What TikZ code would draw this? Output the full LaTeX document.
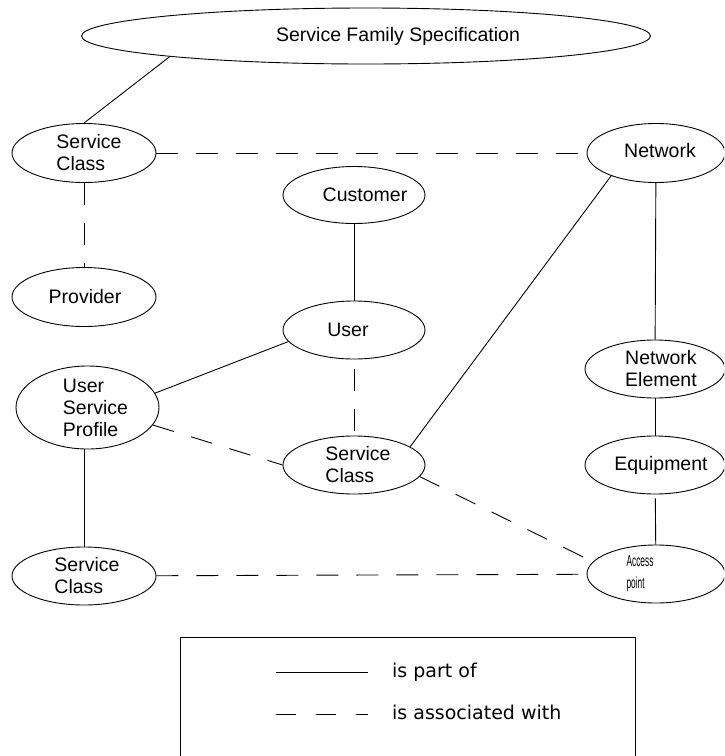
\documentclass[tikz,border=0pt]{standalone}
\usepackage{fontspec}
\usepackage{graphicx}
\setmainfont{Liberation Sans}
\newfontfamily\keyfont{DejaVu Sans}
\usetikzlibrary{shapes.geometric}

\newcommand{\narrowtext}[1]{\scalebox{0.52}[1]{#1}}

\tikzset{
  oval/.style 2 args={draw, ellipse, inner sep=0pt, line width=0.9pt,
    minimum width=#1, minimum height=#2},
  lbl/.style={font=\fontsize{19.5}{22}\selectfont, align=left, inner sep=0pt},
  smalllbl/.style={font=\fontsize{16}{22}\selectfont, align=left, inner sep=0pt},
  partof/.style={line width=0.9pt},
  assoc/.style={line width=0.9pt, dash pattern=on 22pt off 18pt},
  keytext/.style={font=\keyfont\fontsize{19}{22}\selectfont, inner sep=0pt},
}

\begin{document}
\begin{tikzpicture}[x=1pt, y=-1pt]
  \useasboundingbox (0,0) rectangle (724,756);
  \clip (0,0) rectangle (724,756);

  % entities
  \node[oval={569pt}{56pt}, label={[lbl, xshift=32pt]center:Service Family Specification}] (sfs) at (366,36) {};
  \node[oval={144pt}{59pt}, label={[lbl, xshift=5pt]center:{Service\\Class}}] (sc1) at (84,153) {};
  \node[oval={138pt}{59pt}, label={[lbl, xshift=4pt, yshift=2pt]center:Network}] (net) at (656,153) {};
  \node[oval={142pt}{57pt}, label={[lbl, xshift=11pt]center:Customer}] (cust) at (354,195) {};
  \node[oval={144pt}{59pt}, label={[lbl, xshift=1pt]center:Provider}] (prov) at (84,297) {};
  \node[oval={142pt}{58pt}, label={[lbl, xshift=-6pt]center:User}] (user) at (354,330) {};
  \node[oval={143pt}{83pt}, label={[lbl, xshift=8pt]center:{User\\Service\\Profile}}] (usp) at (87.5,407.5) {};
  \node[oval={142pt}{58pt}, label={[lbl, xshift=4pt]center:{Service\\Class}}] (sc2) at (354,465) {};
  \node[oval={140pt}{58pt}, label={[lbl, xshift=6pt]center:{Network\\Element}}] (ne) at (655,369) {};
  \node[oval={140pt}{58pt}, label={[lbl, xshift=6pt]center:Equipment}] (eq) at (655,465) {};
  \node[oval={144pt}{58pt}, label={[lbl, xshift=3pt]center:{Service\\Class}}] (sc3) at (84,576) {};
  \node[oval={138pt}{58pt}, label={[smalllbl, xshift=-16pt]center:{\narrowtext{Access}\\\narrowtext{point}}}] (ap) at (656,574) {};

  % "is part of" relations
  \draw[partof] (sfs.186) -- (sc1.north);
  \draw[partof] (cust) -- (user);
  \draw[partof] (net) -- (ne);
  \draw[partof] (net.207) -- (sc2.18);
  \draw[partof] (user.190) -- (usp.12);
  \draw[partof] (usp.south -| sc3.north) -- (sc3.north);
  \draw[partof] (ne) -- (eq);
  \draw[partof, shorten <=4pt] (eq) -- (ap);

  % "is associated with" relations
  \draw[assoc] (sc1) -- (net);
  \draw[assoc] (sc1) -- (prov);
  \draw[assoc, dash phase=-10pt] (user) -- (sc2);
  \draw[assoc] (usp.345) -- (sc2.west);
  \draw[assoc] (sc2.350) -- (ap.169);
  \draw[assoc] (sc3) -- (ap);

  % key
  \draw[line width=0.9pt] (180,780) -- (180,637) -- (635,637) -- (635,780);
  \coordinate (k1a) at (276,672);
  \coordinate (k1b) at (368,672);
  \coordinate (k2a) at (276,714);
  \coordinate (k2b) at (368,714);
  \draw[partof] (k1a) -- (k1b);
  \draw[line width=0.9pt, dash pattern=on 20pt off 20pt] (k2a) -- (k2b);
  \node[keytext, anchor=base west] (k1t) at (392,677) {is part of};
  \node[keytext, anchor=base west] (k2t) at (392,719) {is associated with};
\end{tikzpicture}
\end{document}
